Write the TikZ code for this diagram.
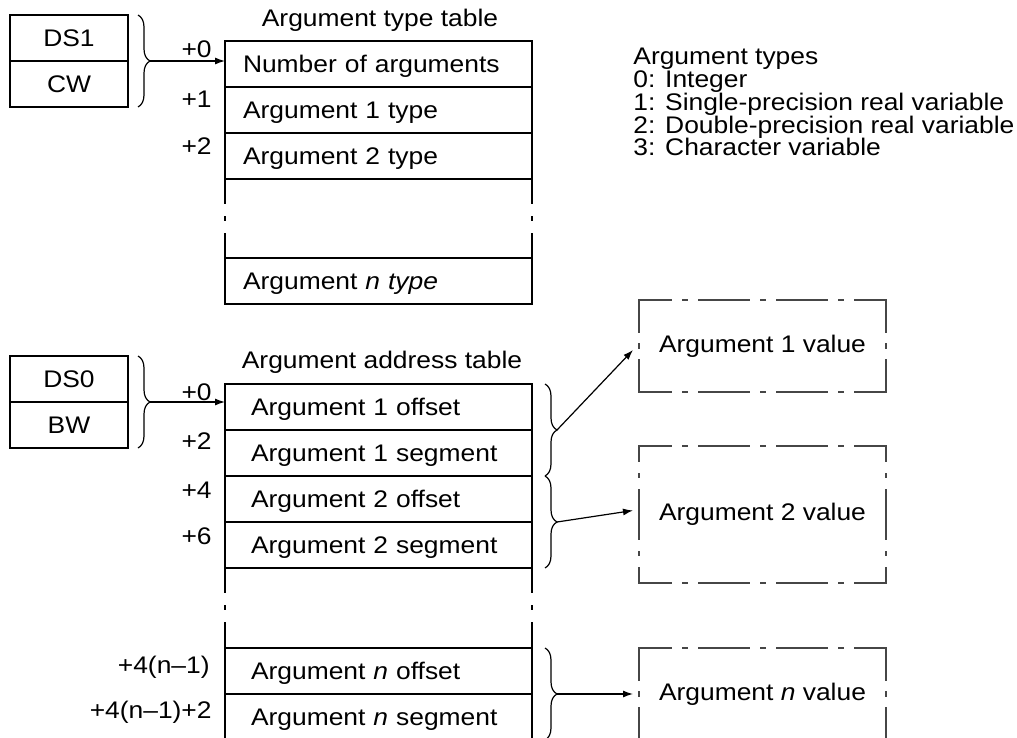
\documentclass[tikz,border=0pt]{standalone}
\usepackage{fontspec}
\setmainfont{Liberation Sans}[FakeStretch=1.1]
\usetikzlibrary{arrows.meta,positioning,calc,decorations.pathreplacing}
\definecolor{DashGray}{RGB}{70,70,70}
\tikzset{
  tblrow/.style={draw, line width=0.8pt, outer sep=0pt, inner ysep=0pt,
    minimum height=23pt, align=left, text height=9.5pt, text depth=1pt},
  typerow/.style={tblrow, inner xsep=9pt, text width=135.5pt},
  addrrow/.style={tblrow, inner xsep=13pt, text width=127.5pt},
  regbox/.style={draw, line width=0.8pt, outer sep=0pt, inner sep=0pt,
    minimum width=59pt, minimum height=23pt, text height=8.5pt, text depth=0pt},
  valbox/.style={minimum width=123.5pt, minimum height=#1, inner sep=0pt, outer sep=0pt},
  valbox/.default=46pt,
  valline/.style={DashGray, line width=0.8pt, line cap=rect,
    dash pattern=on 25pt off 6pt on 2pt off 6pt, dash phase=#1},
  valline/.default=9pt,
  gapline/.style={line width=0.8pt, dash pattern=on 12.5pt off 6pt on 2.5pt off 6pt on 20pt off 10pt},
  brc/.style={decorate, decoration={brace, amplitude=6pt}, line width=0.6pt},
  ptr/.style={-{Latex[length=5pt, width=3.5pt]}, line width=0.6pt},
  offlbl/.style={anchor=base east, inner sep=0pt},
}
\begin{document}
\begin{tikzpicture}[x=0.5pt, y=-0.5pt, every node/.style={font=\fontsize{12pt}{11.35pt}\selectfont}]
    \useasboundingbox (0,0) rectangle (1017,738);

    % argument type table
    \node[anchor=base] (ttitle) at (380,27) {Argument type table};
    \node[typerow] (t0) at (378.5,64) {Number of arguments};
    \node[typerow, below=0pt of t0] (t1) {Argument 1 type};
    \node[typerow, below=0pt of t1] (t2) {Argument 2 type};
    \node[typerow, below=39.5pt of t2] (tn) {Argument \textit{n type}};
    \draw[gapline] (t2.south west) -- (tn.north west);
    \draw[gapline] (t2.south east) -- (tn.north east);

    \node[regbox] (ds1) at (69,38) {DS1};
    \node[regbox, below=0pt of ds1] (cw) {CW};
    \draw[brc] ([xshift=5pt]ds1.north east) -- ([xshift=5pt]cw.south east);
    \coordinate (b1) at ([xshift=11pt]ds1.south east);
    \draw[ptr] (b1) -- (b1 -| t0.west);

    \node[offlbl] (o0) at (212,58) {+0};
    \node[offlbl] (o1) at (212,108) {+1};
    \node[offlbl] (o2) at (212,155) {+2};

    \node[anchor=north west, inner sep=0pt, align=left] (types) at (633,48)
      {Argument types\\0: Integer\\1: Single-precision real variable\\
       2: Double-precision real variable\\3: Character variable};

    % argument address table
    \node[anchor=base] (atitle) at (382,368) {Argument address table};
    \node[addrrow] (a1) at (378.5,407) {Argument 1 offset};
    \node[addrrow, below=0pt of a1] (a2) {Argument 1 segment};
    \node[addrrow, below=0pt of a2] (a3) {Argument 2 offset};
    \node[addrrow, below=0pt of a3] (a4) {Argument 2 segment};
    \node[addrrow, below=40pt of a4] (an1) {Argument \textit{n} offset};
    \node[addrrow, below=0pt of an1] (an2) {Argument \textit{n} segment};
    \draw[gapline] (a4.south west) -- (an1.north west);
    \draw[gapline] (a4.south east) -- (an1.north east);

    \node[regbox] (ds0) at (69,379) {DS0};
    \node[regbox, below=0pt of ds0] (bw) {BW};
    \draw[brc] ([xshift=5pt]ds0.north east) -- ([xshift=5pt]bw.south east);
    \coordinate (b2) at ([xshift=11pt]ds0.south east);
    \draw[ptr] (b2) -- (b2 -| a1.west);

    \node[offlbl] (p0) at (212,400) {+0};
    \node[offlbl] (p2) at (212,449) {+2};
    \node[offlbl] (p4) at (212,498) {+4};
    \node[offlbl] (p6) at (212,544) {+6};
    \node[offlbl] (pn1) at (210,673) {+4(n--1)};
    \node[offlbl] (pn2) at (212,718) {+4(n--1)+2};

    % argument values
    \node[valbox] (v1) at (762.5,346) {Argument 1 value};
    \node[valbox=68.5pt] (v2) at (762.5,514.5) {Argument 2 value};
    \node[valbox] (v3) at (762.5,694) {Argument \textit{n} value};
    \foreach \v in {v1,v2,v3} {
      \draw[valline] (\v.north west) -- (\v.north east);
      \draw[valline] (\v.south west) -- (\v.south east);
    }
    \foreach \v in {v1,v3} {
      \draw[valline] (\v.north west) -- (\v.south west);
      \draw[valline] (\v.north east) -- (\v.south east);
    }
    \draw[valline=17.25pt] (v2.north west) -- (v2.south west);
    \draw[valline=17.25pt] (v2.north east) -- (v2.south east);

    \draw[brc] ([xshift=6.5pt]a1.north east) -- ([xshift=6.5pt]a2.south east);
    \draw[brc] ([xshift=6.5pt]a3.north east) -- ([xshift=6.5pt]a4.south east);
    \draw[brc] ([xshift=6.5pt]an1.north east) -- ([xshift=6.5pt]an2.south east);
    \coordinate (r1) at ([xshift=12.5pt]a1.south east);
    \coordinate (r2) at ([xshift=12.5pt]a3.south east);
    \coordinate (r3) at ([xshift=12.5pt]an1.south east);
    \draw[ptr] (r1) -- ([xshift=-3pt, yshift=-2pt]v1.west);
    \draw[ptr] (r2) -- ([xshift=-3pt, yshift=2pt]v2.west);
    \draw[ptr] (r3) -- ([xshift=-3pt]v3.west);
  \end{tikzpicture}
\end{document}
